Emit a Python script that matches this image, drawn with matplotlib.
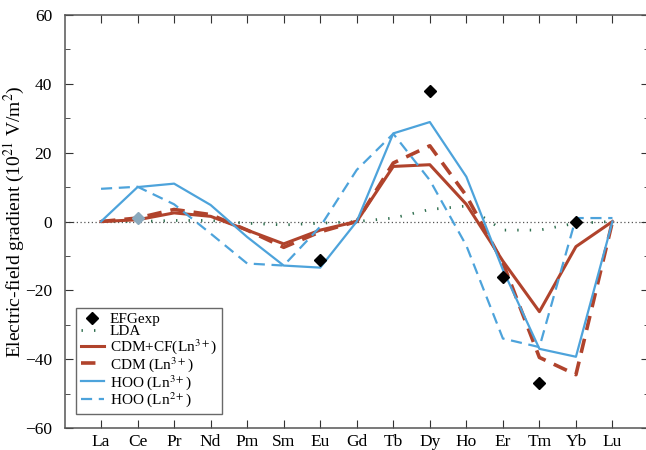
import matplotlib.pyplot as plt
from matplotlib.ticker import MultipleLocator

plt.rcParams['font.family'] = ['Liberation Serif', 'DejaVu Serif']
plt.rcParams['mathtext.fontset'] = 'stix'

elements = ['La', 'Ce', 'Pr', 'Nd', 'Pm', 'Sm', 'Eu', 'Gd', 'Tb', 'Dy', 'Ho', 'Er', 'Tm', 'Yb', 'Lu']

lda = [0, 0, 0.3, 0.3, -0.5, -1, -0.5, 0, 1, 3.5, 4.5, -2.5, -2.5, -0.5, 0]
cdm_cf = [0, 0.5, 2.5, 1.5, -2.5, -6.5, -2.5, 0, 16, 16.5, 5, -11.5, -26.2, -7.3, 0]
cdm = [0, 1, 3.5, 2, -2.5, -7.5, -3, 0, 17, 22, 7.5, -12, -39.5, -44.5, 0]
hoo3 = [0, 10, 11, 4.8, -4.5, -12.8, -13.4, 0, 25.6, 28.9, 13, -14, -37, -39.3, 0]
hoo2 = [9.5, 10.1, 5, -3.5, -12.2, -12.8, -1.5, 15, 25.5, 12, -7, -34, -36.5, 1, 1]

exp_idx = [6, 9, 11, 12, 13]
exp_val = [-11.2, 37.9, -16, -47, 0]
ce_idx = [1]
ce_val = [1]

red = '#b0432c'
blue = '#4da3db'
green = '#2f6f4f'

fig = plt.figure(figsize=(6.46, 4.5), dpi=100)
ax = fig.add_axes([64.5 / 646, 22 / 450, (649 - 64.5) / 646, (428 - 15) / 450])

x = list(range(len(elements)))
ax.axhline(0, color='#555555', lw=0.9, ls=(0, (1, 2)), zorder=1)

ax.plot(ce_idx, ce_val, 'D', color='#8aa9bd', ms=6, zorder=6)
h_exp, = ax.plot(exp_idx, exp_val, 'D', color='black', ms=6, zorder=6, label='EFGexp')
h_lda, = ax.plot(x, lda, color=green, lw=2, ls=(0, (0.5, 4)), label='LDA')
h_cf, = ax.plot(x, cdm_cf, color=red, lw=2.2, label=r'CDM+CF(Ln$^{3+}$)')
h_cdm, = ax.plot(x, cdm, color=red, lw=2.6, ls=(0, (4, 2.5)), label=r'CDM (Ln$^{3+}$)')
h_h3, = ax.plot(x, hoo3, color=blue, lw=1.6, label=r'HOO (Ln$^{3+}$)')
h_h2, = ax.plot(x, hoo2, color=blue, lw=1.6, ls=(0, (5, 3)), label=r'HOO (Ln$^{2+}$)')

ax.set_xlim(-1, 15)
ax.set_ylim(-60, 60)
ax.set_xticks(x)
ax.set_xticklabels(elements, fontsize=12)
ax.yaxis.set_major_locator(MultipleLocator(20))
ax.yaxis.set_minor_locator(MultipleLocator(10))
ax.tick_params(axis='both', which='major', direction='in', length=6, top=True, right=True,
               labelsize=12.5, color='#333333')
ax.tick_params(axis='both', which='minor', direction='in', length=3.5, top=True, right=True,
               color='#333333')
ax.tick_params(axis='x', pad=4)
ax.tick_params(axis='y', pad=9)
for s in ax.spines.values():
    s.set_color('#555555')
    s.set_linewidth(1.1)

ax.set_ylabel(r'Electric-field gradient (10$^{21}$ V/m$^2$)', fontsize=14)
ax.yaxis.set_label_coords(-0.064, 0.5)

leg = ax.legend(handles=[h_exp, h_lda, h_cf, h_cdm, h_h3, h_h2], loc='lower left',
                bbox_to_anchor=(0.02, 0.034), fontsize=11, handlelength=1.5,
                handletextpad=0.4, labelspacing=-0.08, borderpad=0.3, frameon=True,
                fancybox=False, edgecolor='#444444', borderaxespad=0.0)
leg.get_frame().set_linewidth(1.0)

fig.savefig('out.png', dpi=100)
